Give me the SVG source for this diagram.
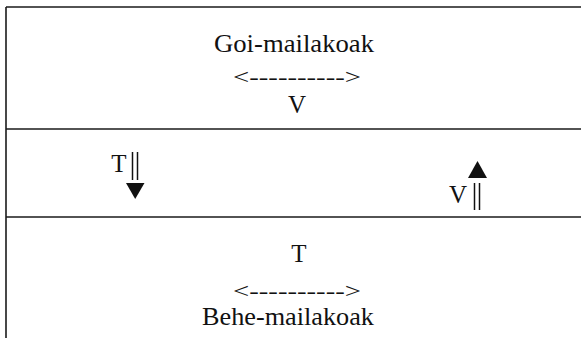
<svg xmlns="http://www.w3.org/2000/svg" width="581" height="338" viewBox="0 0 581 338">
  <style>
    .t { font-family: "Liberation Serif", "Times New Roman", serif; font-size: 25px; fill: #111; }
    .a { font-family: "Liberation Serif", "Times New Roman", serif; font-size: 22px; fill: #111; }
    .rule { stroke: #1a1a1a; stroke-width: 1.6; fill: none; }
    .shaft { stroke: #111; stroke-width: 1.5; fill: none; }
    .head { fill: #111; }
  </style>
  <rect x="0" y="0" width="581" height="338" fill="#ffffff"/>
  <g id="frame">
    <line class="rule" x1="6" y1="7" x2="581" y2="7"/>
    <line class="rule" x1="6" y1="7" x2="6" y2="338"/>
    <line class="rule" x1="6" y1="129" x2="581" y2="129"/>
    <line class="rule" x1="6" y1="217" x2="581" y2="217"/>
  </g>
  <g id="layer-top">
    <text class="t" x="294" y="52" text-anchor="middle" textLength="160" lengthAdjust="spacingAndGlyphs">Goi-mailakoak</text>
    <text class="a" x="297" y="84" text-anchor="middle" textLength="128" lengthAdjust="spacingAndGlyphs">&lt;----------&gt;</text>
    <text class="t" x="297" y="113" text-anchor="middle">V</text>
  </g>
  <g id="layer-middle-left">
    <text class="t" x="119" y="172" text-anchor="middle">T</text>
  </g>
  <g id="layer-middle-right">
    <text class="t" x="458" y="203" text-anchor="middle">V</text>
  </g>
  <g id="layer-bottom">
    <text class="t" x="299" y="262" text-anchor="middle">T</text>
    <text class="a" x="297" y="298" text-anchor="middle" textLength="128" lengthAdjust="spacingAndGlyphs">&lt;----------&gt;</text>
    <text class="t" x="288" y="325" text-anchor="middle" textLength="172" lengthAdjust="spacingAndGlyphs">Behe-mailakoak</text>
  </g>
  <g id="connectors">
    <line class="shaft" x1="132.5" y1="152" x2="132.5" y2="180"/>
    <line class="shaft" x1="137.5" y1="152" x2="137.5" y2="180"/>
    <polygon class="head" points="126,183 144.5,183 135.2,199"/>
    <line class="shaft" x1="474.5" y1="183" x2="474.5" y2="210"/>
    <line class="shaft" x1="479.5" y1="183" x2="479.5" y2="210"/>
    <polygon class="head" points="468,178 487,178 477.5,161"/>
  </g>
</svg>
